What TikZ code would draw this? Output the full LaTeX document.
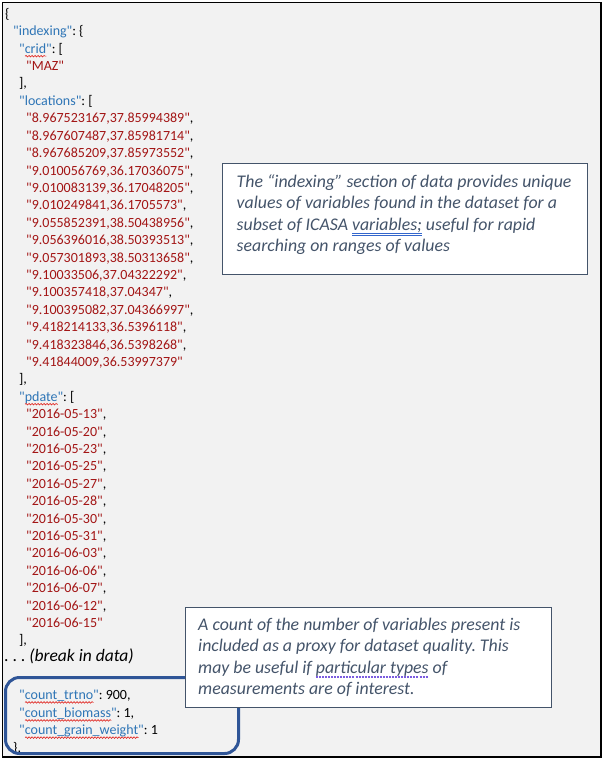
\documentclass[tikz,border=0pt]{standalone}
\usepackage{fontspec}
\setmainfont{Carlito}[Ligatures=TeXOff]
\usetikzlibrary{positioning, decorations.pathmorphing}
\frenchspacing

\definecolor{keyblue}{HTML}{2E75B6}
\definecolor{valred}{HTML}{A31515}
\definecolor{wavered}{HTML}{E0201B}
\definecolor{notegray}{HTML}{44546A}
\definecolor{countblue}{HTML}{2F5597}
\definecolor{pagegray}{HTML}{F2F2F2}
\definecolor{dblblue}{HTML}{3366CC}
\definecolor{dotviolet}{HTML}{7B5CE0}

\newlength{\wordwd}
\newcommand{\spellwave}[1]{\settowidth{\wordwd}{#1}%
  \rlap{\tikz[x=1pt,y=1pt,baseline=0pt]\draw[wavered, line width=0.6pt, decorate,
    decoration={snake, amplitude=0.8pt, segment length=3pt}] (0,-3) -- (\the\wordwd,-3);}#1}
\newcommand{\dbluline}[1]{\settowidth{\wordwd}{#1}%
  \rlap{\textcolor{dblblue}{\rule[-3.8pt]{\wordwd}{0.8pt}}}%
  \rlap{\textcolor{dblblue}{\rule[-6.2pt]{\wordwd}{0.8pt}}}#1}
\newcommand{\dotline}[1]{\settowidth{\wordwd}{#1}%
  \rlap{\textcolor{dotviolet}{\raisebox{-4.5pt}{\hbox to \wordwd{\xleaders\hbox to 3pt{\rule{2pt}{1.3pt}\hss}\hfil}}}}#1}

\newcommand{\jk}[1]{\textcolor{keyblue}{"#1"}}
\newcommand{\jks}[1]{\textcolor{keyblue}{"\spellwave{#1}"}}
\newcommand{\jv}[1]{\textcolor{valred}{"#1"}}

\begin{document}
\begin{tikzpicture}[
  x=1pt, y=-1pt,
  json/.style={anchor=base west, inner sep=0pt, font=\fontsize{14}{17}\selectfont},
  notebox/.style={draw=notegray, fill=white, line width=1pt, anchor=north west, inner sep=0pt},
  notetext/.style={anchor=north west, inner sep=0pt, align=left, text=notegray, font=\fontsize{17.8}{21.5}\selectfont\itshape},
  countbox/.style={draw=countblue, line width=3pt, rounded corners=14pt, anchor=north west, inner sep=0pt}
]
\useasboundingbox (0,0) rectangle (604,760);
\draw[line width=1.5pt, fill=pagegray] (2.5,2.5) rectangle (601,757);

% json listing
\foreach \xx/\txt [count=\k from 0] in {
  5/{\{},
  13/{\jk{indexing}: \{},
  19/{\jks{crid}: [},
  26/{\jv{MAZ}},
  19/{],},
  19/{\jk{locations}: [},
  26/{\jv{8.967523167,37.85994389},},
  26/{\jv{8.967607487,37.85981714},},
  26/{\jv{8.967685209,37.85973552},},
  26/{\jv{9.010056769,36.17036075},},
  26/{\jv{9.010083139,36.17048205},},
  26/{\jv{9.010249841,36.1705573},},
  26/{\jv{9.055852391,38.50438956},},
  26/{\jv{9.056396016,38.50393513},},
  26/{\jv{9.057301893,38.50313658},},
  26/{\jv{9.10033506,37.04322292},},
  26/{\jv{9.100357418,37.04347},},
  26/{\jv{9.100395082,37.04366997},},
  26/{\jv{9.418214133,36.5396118},},
  26/{\jv{9.418323846,36.5398268},},
  26/{\jv{9.41844009,36.53997379}},
  19/{],},
  19/{\jks{pdate}: [},
  26/{\jv{2016-05-13},},
  26/{\jv{2016-05-20},},
  26/{\jv{2016-05-23},},
  26/{\jv{2016-05-25},},
  26/{\jv{2016-05-27},},
  26/{\jv{2016-05-28},},
  26/{\jv{2016-05-30},},
  26/{\jv{2016-05-31},},
  26/{\jv{2016-06-03},},
  26/{\jv{2016-06-06},},
  26/{\jv{2016-06-07},},
  26/{\jv{2016-06-12},},
  26/{\jv{2016-06-15}},
  19/{],}}
  \node[json] (line\k) at (\xx, 18.4+17.4*\k) {\txt};

\node[json, font=\fontsize{17.5}{20}\selectfont] (gap) at (4,661)
  {. . . \textit{(break in data)}};

\node[json] (trtno) at (19,699.4) {\jks{count\_trtno}: 900,};
\node[json] (biomass) at (19,717.4) {\jks{count\_biomass}: 1,};
\node[json] (grain) at (19,734.6) {\jks{count\_grain\_weight}: 1};
\node[json] (close) at (13,752.4) {\},};

\node[countbox, minimum width=233pt, minimum height=76pt] (counts) at (4,676) {};

% callouts
\node[notebox, minimum width=365pt, minimum height=111pt] (note1) at (222,163) {};
\node[notetext, below right=11pt and 14.5pt of note1.north west] (note1text)
  {The “indexing” section of data provides unique\\
   values of variables found in the dataset for a\\
   subset of ICASA \dbluline{variables;} useful for rapid\\
   searching on ranges of values};

\node[notebox, minimum width=366pt, minimum height=100pt] (note2) at (185,607) {};
\node[notetext, below right=10.5pt and 13pt of note2.north west] (note2text)
  {A count of the number of variables present is\\
   included as a proxy for dataset quality. This\\
   may be useful if \dotline{particular types} of\\
   measurements are of interest.};
\end{tikzpicture}
\end{document}
